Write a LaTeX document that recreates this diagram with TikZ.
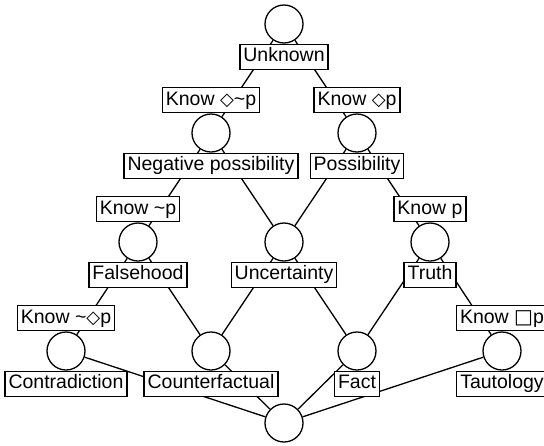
\documentclass[tikz,border=0pt]{standalone}
\usepackage{fontspec}
\setmainfont{Liberation Sans}
\newfontfamily\symfont{DejaVu Sans}
\newcommand{\dia}{{\symfont\fontsize{18}{18}\selectfont ◇}}
\newcommand{\sqr}{{\symfont\fontsize{20}{20}\selectfont □}}
\begin{document}
\begin{tikzpicture}[x=1pt,y=-1pt,line width=1.2pt,
  st/.style={circle,draw,fill=white,minimum size=38pt,inner sep=0pt,line width=1.3pt},
  lbl/.style={draw,fill=white,font=\fontsize{19.5}{21}\selectfont,inner xsep=3.5pt,inner ysep=3.5pt,
    text height=14pt,text depth=4pt,line width=1.3pt},
  link/.style={line width=1.3pt}]
\useasboundingbox (0,0) rectangle (544,445);
% states
\node[st] (s0) at (284,24) {};
\node[st] (np) at (211,133) {};
\node[st] (po) at (357,133) {};
\node[st] (fa) at (138,242) {};
\node[st] (un) at (284,242) {};
\node[st] (tr) at (430,242) {};
\node[st] (co) at (66,351) {};
\node[st] (cf) at (211,351) {};
\node[st] (fc) at (357,351) {};
\node[st] (ta) at (502,351) {};
\node[st] (bo) at (284,423) {};
% connectors
\draw[link] (s0) -- (np);
\draw[link] (s0) -- (po);
\draw[link] (np) -- (fa);
\draw[link] (np) -- (un);
\draw[link] (po) -- (un);
\draw[link] (po) -- (tr);
\draw[link] (fa) -- (co);
\draw[link] (fa) -- (cf);
\draw[link] (un) -- (cf);
\draw[link] (un) -- (fc);
\draw[link] (tr) -- (fc);
\draw[link] (tr) -- (ta);
\draw[link] (co) -- (bo);
\draw[link] (cf) -- (bo);
\draw[link] (fc) -- (bo);
\draw[link] (ta) -- (bo);
% state labels
\node[lbl,anchor=north] (l0) at (s0.south) {Unknown};
\node[lbl,anchor=north] (lnp) at (np.south) {Negative possibility};
\node[lbl,anchor=north] (lpo) at (po.south) {Possibility};
\node[lbl,anchor=north] (lfa) at (fa.south) {Falsehood};
\node[lbl,anchor=north] (lun) at (un.south) {Uncertainty};
\node[lbl,anchor=north] (ltr) at (tr.south) {Truth};
\node[lbl,anchor=north] (lco) at (co.south) {Contradiction};
\node[lbl,anchor=north] (lcf) at (cf.south) {Counterfactual};
\node[lbl,anchor=north] (lfc) at (fc.south) {Fact};
\node[lbl,anchor=north] (lta) at (ta.south) {Tautology};
% edge labels
\node[lbl,anchor=south] (k1) at (np.north) {Know \dia\textasciitilde p};
\node[lbl,anchor=south] (k2) at (po.north) {Know \dia p};
\node[lbl,anchor=south] (k3) at (fa.north) {Know \textasciitilde p};
\node[lbl,anchor=south] (k4) at (tr.north) {Know p};
\node[lbl,anchor=south] (k5) at (co.north) {Know \textasciitilde\dia p};
\node[lbl,anchor=south] (k6) at (ta.north) {Know \sqr p};
\end{tikzpicture}
\end{document}
